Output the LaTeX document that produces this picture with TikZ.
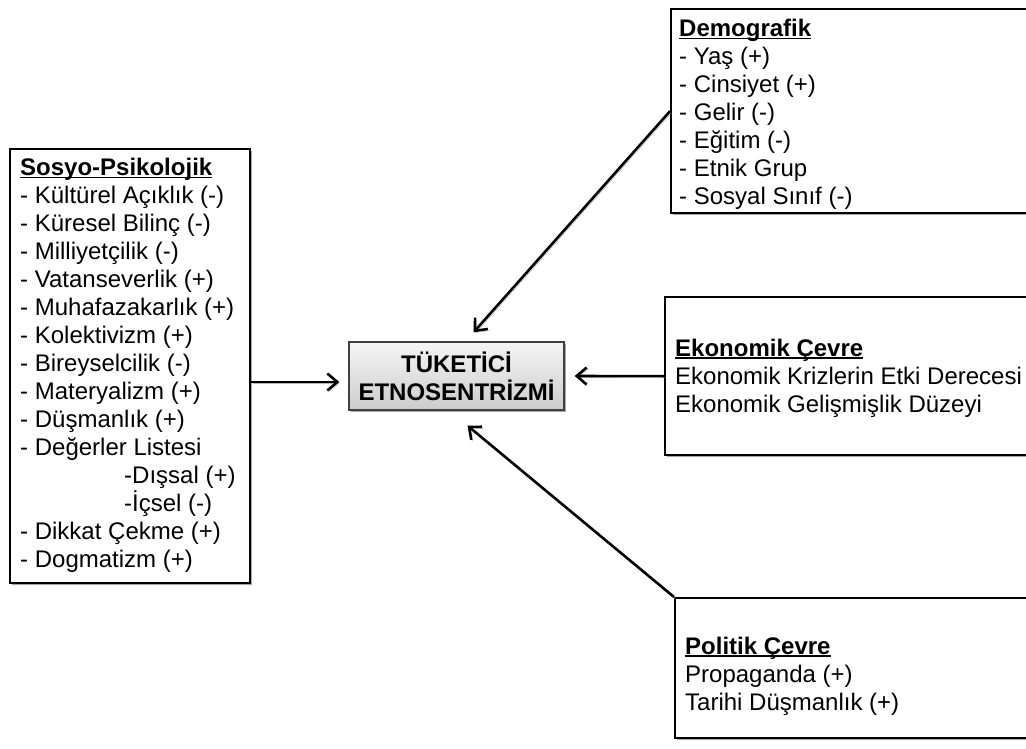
\documentclass[tikz,border=0pt]{standalone}
\usepackage{fontspec}
\setmainfont{Liberation Sans}
\usetikzlibrary{arrows.meta,shadows}

% bold heading with a rule just under the baseline
\newcommand{\boxhead}[1]{\setbox0\hbox{\bfseries #1}\rlap{\rule[-2.8pt]{\wd0}{1.6pt}}\box0}

\tikzset{
  panel/.style={draw=black, line width=2.4pt, fill=white, inner sep=0pt,
    anchor=north west,
    drop shadow={shadow xshift=1.4pt, shadow yshift=-1.6pt, fill=black, opacity=0.35}},
  listtext/.style={anchor=north west, inner sep=0pt, align=left,
    font=\fontsize{24pt}{28pt}\selectfont},
  corebox/.style={draw=black!75, line width=1.3pt, top color=black!4, bottom color=black!20,
    minimum width=215pt, minimum height=68pt, inner sep=0pt, align=center,
    font=\fontsize{24pt}{28pt}\selectfont\bfseries,
    drop shadow={shadow xshift=1.6pt, shadow yshift=-2pt, fill=black, opacity=0.35}},
  link/.style={line width=2.6pt, -{Straight Barb[length=10pt,width=17pt]},
    preaction={draw=black!30, transform canvas={xshift=1.4pt,yshift=-1.6pt}}}
}

\begin{document}
\begin{tikzpicture}[x=1pt,y=-1pt]
\useasboundingbox (0,0) rectangle (1026,749);
\clip (0,0) rectangle (1026,749);

% frames
\node[panel, minimum width=240pt, minimum height=434pt] (soz) at (9,148) {};
\node[panel, minimum width=370pt, minimum height=204pt] (dem) at (670,8) {};
\node[panel, minimum width=376pt, minimum height=158pt] (eko) at (664,296) {};
\node[panel, minimum width=366pt, minimum height=140pt] (pol) at (674,597) {};

% central concept
\node[corebox] (core) at (456.5,376) {TÜKETİCİ\\ETNOSENTRİZMİ};

% list contents
\node[listtext] (soztext) at (20,158) {%
\boxhead{Sosyo-Psikolojik}\\
- Kültürel Açıklık (-)\\
- Küresel Bilinç (-)\\
- Milliyetçilik (-)\\
- Vatanseverlik (+)\\
- Muhafazakarlık (+)\\
- Kolektivizm (+)\\
- Bireyselcilik (-)\\
- Materyalizm (+)\\
- Düşmanlık (+)\\
- Değerler Listesi\\
\hspace*{104pt}-Dışsal (+)\\
\hspace*{104pt}-İçsel (-)\\
- Dikkat Çekme (+)\\
- Dogmatizm (+)};

\node[listtext] (demtext) at (679,19) {%
\boxhead{Demografik}\\
- Yaş (+)\\
- Cinsiyet (+)\\
- Gelir (-)\\
- Eğitim (-)\\
- Etnik Grup\\
- Sosyal Sınıf (-)};

\node[listtext] (ekotext) at (675,338.5) {%
\boxhead{Ekonomik Çevre}\\
Ekonomik Krizlerin Etki Derecesi\\
Ekonomik Gelişmişlik Düzeyi};

\node[listtext] (poltext) at (685,636.5) {%
\boxhead{Politik Çevre}\\
Propaganda (+)\\
Tarihi Düşmanlık (+)};

% influences on the central concept
\coordinate (ltip) at ([xshift=-9pt,yshift=-6pt]core.west);
\draw[link] (soz.east |- ltip) -- (ltip);
\draw[link] (dem.west) -- ([xshift=17pt,yshift=9pt]core.north);
\draw[link] (eko.west) -- ([xshift=10pt]core.east);
\draw[link] (pol.north west) -- ([xshift=11pt,yshift=-15pt]core.south);
\end{tikzpicture}
\end{document}
